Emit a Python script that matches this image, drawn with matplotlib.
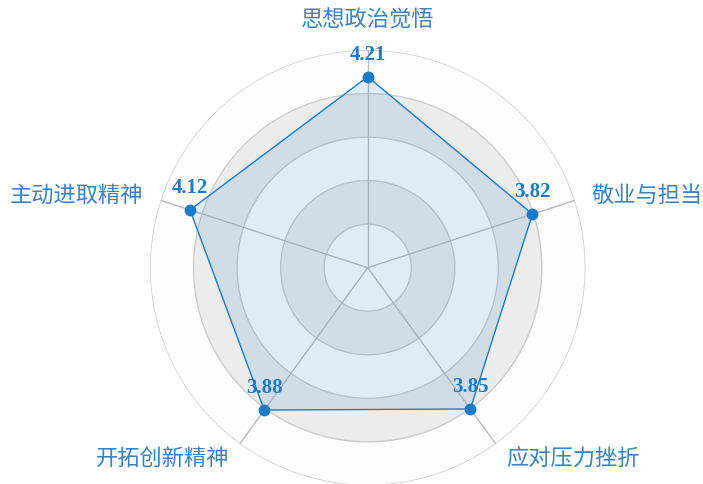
import numpy as np
import matplotlib
matplotlib.use("Agg")
import matplotlib.pyplot as plt

# data
dimensions = ['思想政治觉悟', '敬业与担当', '应对压力挫折', '开拓创新精神', '主动进取精神']
scores = [4.21, 3.82, 3.85, 3.88, 4.12]
r_max = 4.8
n_rings = 5

line_color = '#1a7bc9'
name_color = '#3a82c6'
ring_colors = ['#fdfdfd', '#ececec']

plt.rcParams['font.family'] = ['Noto Sans CJK SC', 'DejaVu Sans']

fig = plt.figure(figsize=(7.03, 4.84), dpi=100)
ax = fig.add_axes([0.2134, -0.0029, 0.6193, 0.8996], projection='polar')
ax.set_theta_zero_location('N')
ax.set_theta_direction(-1)
ax.set_ylim(0, r_max)
ax.axis('off')

# split areas and split lines
circle = np.linspace(0, 2 * np.pi, 361)
step = r_max / n_rings
for k in range(n_rings):
    ax.fill_between(circle, k * step, (k + 1) * step, color=ring_colors[k % 2], lw=0, zorder=1)
    ax.plot(circle, np.full_like(circle, (k + 1) * step), color='#cccccc', lw=1, zorder=2)

angles = np.linspace(0, 2 * np.pi, len(dimensions), endpoint=False)
for a in angles:
    ax.plot([a, a], [0, r_max], color='#bbbbbb', lw=1, zorder=2)

# data polygon
a_closed = np.append(angles, angles[0])
v_closed = np.append(scores, scores[0])
ax.fill(a_closed, v_closed, color=line_color, alpha=0.13, lw=0, zorder=3)
ax.plot(a_closed, v_closed, color=line_color, lw=1, zorder=4)
ax.plot(angles, scores, 'o', color=line_color, ms=7.5, zorder=5)

for a, v in zip(angles, scores):
    ax.annotate(f'{v:.2f}', xy=(a, v), xytext=(0, 16), textcoords='offset points',
                ha='center', va='center', fontsize=15, fontweight='bold',
                family='Liberation Serif', color=line_color, zorder=6)

# axis names
gap = 13
for a, name in zip(angles, dimensions):
    dx = np.sin(a)
    dy = np.cos(a)
    if dx > 0.1:
        ha = 'left'
    elif dx < -0.1:
        ha = 'right'
    else:
        ha = 'center'
    va = 'bottom' if dy > 0.9 else 'center'
    ax.annotate(name, xy=(a, r_max), xytext=(dx * gap, dy * gap), textcoords='offset points',
                ha=ha, va=va, fontsize=16, fontweight='light', color=name_color,
                annotation_clip=False)

fig.savefig('out.png', dpi=100)
